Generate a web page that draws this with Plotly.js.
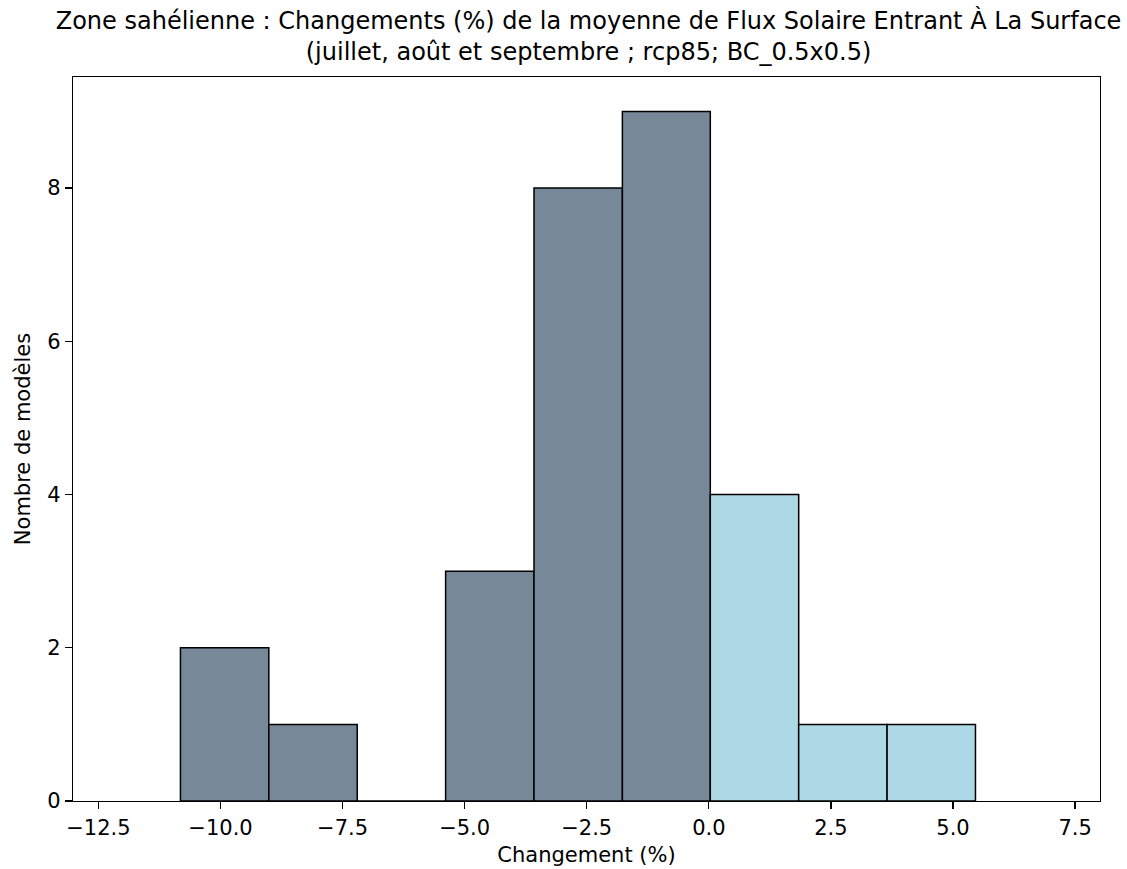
<!DOCTYPE html>
<html>
<head>
<meta charset="utf-8">
<script src="https://cdn.plot.ly/plotly-3.0.1.min.js"></script>
<style>html,body{margin:0;padding:0;background:#fff;}#chart{width:1127px;height:869px;}</style>
</head>
<body>
<div id="chart"></div>
<script>
// Histogram data
const binEdges = [-10.82, -9.01, -7.20, -5.39, -3.58, -1.77, 0.03, 1.84, 3.65, 5.46];
const counts = [2, 1, 0, 3, 8, 9, 4, 1, 1];
const xTickVals = [-12.5, -10.0, -7.5, -5.0, -2.5, 0.0, 2.5, 5.0, 7.5];
const yTickVals = [0, 2, 4, 6, 8];
const titleText = "Zone sahélienne : Changements (%) de la moyenne de Flux Solaire Entrant À La Surface<br>(juillet, août et septembre ; rcp85; BC_0.5x0.5)";
const xLabel = "Changement (%)";
const yLabel = "Nombre de modèles";

const negX = [], negY = [], negW = [], posX = [], posY = [], posW = [];
for (let i = 0; i < counts.length; i++) {
  const lo = binEdges[i], hi = binEdges[i + 1];
  const c = (lo + hi) / 2, w = hi - lo;
  if (c < 0) { negX.push(c); negY.push(counts[i]); negW.push(w); }
  else { posX.push(c); posY.push(counts[i]); posW.push(w); }
}

const font = {family: "DejaVu Sans", size: 21, color: "#000"};
const traces = [
  {type: "bar", x: negX, y: negY, width: negW, marker: {color: "#778899", line: {color: "#000", width: 1.5}}, hoverinfo: "x+y"},
  {type: "bar", x: posX, y: posY, width: posW, marker: {color: "#add8e6", line: {color: "#000", width: 1.5}}, hoverinfo: "x+y"}
];
const layout = {
  width: 1127, height: 869,
  margin: {l: 73, r: 27, t: 77, b: 68},
  paper_bgcolor: "#fff", plot_bgcolor: "#fff",
  showlegend: false,
  bargap: 0,
  font: font,
  title: {text: titleText, font: {family: "DejaVu Sans", size: 24, color: "#000"}, x: 0.502, xref: "paper", xanchor: "center", y: 0.967, yref: "container", yanchor: "middle"},
  xaxis: {
    range: [-13.02, 8.01], tickvals: xTickVals, tickformat: ".1f",
    showgrid: false, zeroline: false, showline: true, mirror: true, linecolor: "#000", linewidth: 1.3,
    ticks: "outside", ticklen: 7, tickwidth: 1.3, tickcolor: "#000",
    tickfont: font,
    title: {text: xLabel, font: font, standoff: 8}
  },
  yaxis: {
    range: [0, 9.45], tickvals: yTickVals,
    showgrid: false, zeroline: false, showline: true, mirror: true, linecolor: "#000", linewidth: 1.3,
    ticks: "outside", ticklen: 7, tickwidth: 1.3, tickcolor: "#000",
    tickfont: font,
    title: {text: yLabel, font: font, standoff: 10}
  }
};
Plotly.newPlot("chart", traces, layout, {displayModeBar: false, staticPlot: true});
</script>
</body>
</html>
